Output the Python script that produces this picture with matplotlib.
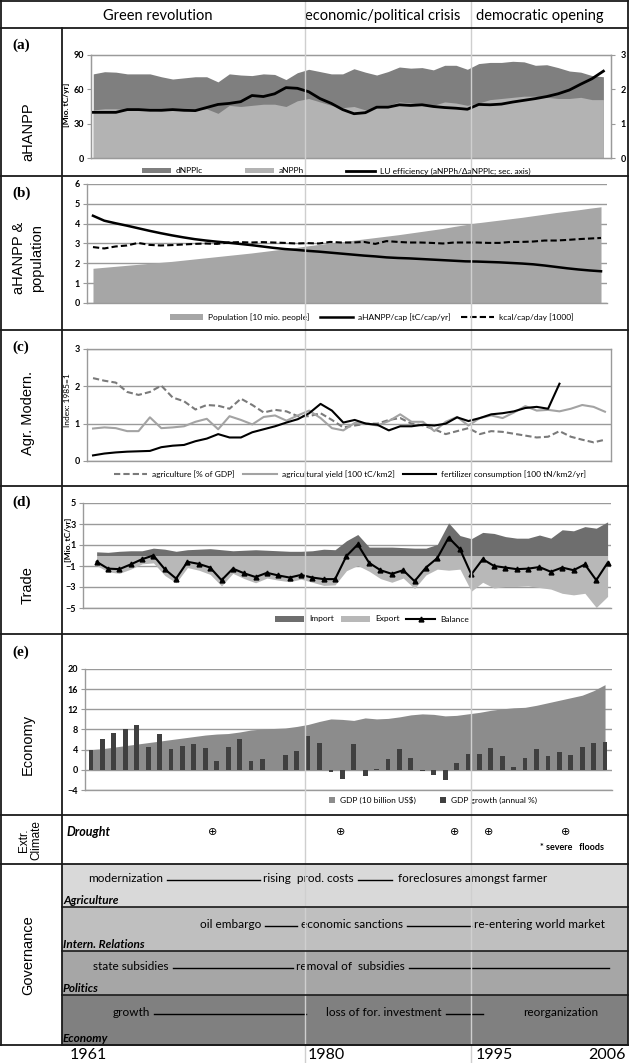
import matplotlib
matplotlib.use('Agg')
import matplotlib.pyplot as plt
from matplotlib.lines import Line2D
from matplotlib.patches import Rectangle

plt.rcParams['font.family'] = ['Lato', 'DejaVu Sans']

W, H = 630, 1063
years = list(range(1961, 2007))

# (a) aHANPP [Mio. tC/yr], LU efficiency on secondary axis
dnpplc = [73.5, 75.4, 75.0, 73.5, 73.5, 73.5, 71.0, 69.0, 70.0, 71.0,
          71.0, 66.5, 73.5, 72.5, 72.0, 73.5, 73.0, 68.5, 74.5, 77.5,
          75.5, 73.5, 73.5, 78.0, 75.0, 72.5, 75.5, 79.5, 78.5, 79.0,
          77.0, 81.0, 81.0, 77.5, 82.5, 83.5, 83.5, 84.5, 84.0, 81.0,
          81.5, 79.0, 76.0, 75.0, 72.0, 71.0]
anpph = [42, 43, 43, 42, 42, 42, 41, 42, 41, 42,
         43, 39, 46, 45, 46, 47, 47, 45, 50, 52,
         49, 46, 44, 45, 42, 44, 46, 49, 48, 47,
         46, 49, 48, 46, 48, 51, 52, 53, 54, 54,
         53, 52, 52, 53, 51, 51]
lu_eff = [1.33, 1.33, 1.33, 1.41, 1.41, 1.39, 1.39, 1.41, 1.39, 1.38,
          1.47, 1.56, 1.59, 1.64, 1.82, 1.79, 1.87, 2.05, 2.03, 1.93,
          1.73, 1.59, 1.41, 1.29, 1.32, 1.48, 1.48, 1.55, 1.53, 1.55,
          1.50, 1.47, 1.45, 1.42, 1.56, 1.55, 1.57, 1.63, 1.68, 1.73,
          1.79, 1.87, 1.98, 2.15, 2.31, 2.53]

# (b) population and per capita values
population = [1.75, 1.80, 1.85, 1.90, 1.95, 2.00, 2.05, 2.10, 2.16, 2.22,
              2.28, 2.34, 2.40, 2.46, 2.52, 2.59, 2.66, 2.73, 2.80, 2.88,
              2.95, 3.02, 3.09, 3.16, 3.23, 3.30, 3.37, 3.44, 3.52, 3.60,
              3.68, 3.76, 3.86, 3.95, 4.04, 4.11, 4.18, 4.25, 4.32, 4.40,
              4.48, 4.56, 4.63, 4.70, 4.78, 4.85]
ahanpp_cap = [4.40, 4.15, 4.02, 3.90, 3.77, 3.64, 3.52, 3.41, 3.31, 3.22,
              3.15, 3.09, 3.04, 2.98, 2.92, 2.85, 2.78, 2.72, 2.68, 2.63,
              2.59, 2.54, 2.49, 2.44, 2.39, 2.35, 2.30, 2.27, 2.25, 2.22,
              2.19, 2.16, 2.13, 2.10, 2.09, 2.07, 2.05, 2.02, 1.99, 1.95,
              1.89, 1.82, 1.75, 1.69, 1.64, 1.60]
kcal_cap = [2.82, 2.75, 2.85, 2.90, 3.03, 2.93, 2.90, 2.92, 2.95, 2.98,
            3.00, 2.98, 3.05, 3.07, 3.05, 3.07, 3.05, 3.03, 3.00, 3.02,
            3.00, 3.08, 3.05, 3.05, 3.08, 2.98, 3.12, 3.08, 3.05, 3.05,
            3.03, 3.00, 3.05, 3.05, 3.05, 3.03, 3.03, 3.08, 3.08, 3.10,
            3.15, 3.15, 3.18, 3.22, 3.25, 3.28]

# (c) agricultural modernization, index 1985=1
agri_gdp = [2.22, 2.15, 2.10, 1.85, 1.77, 1.85, 2.02, 1.70, 1.60, 1.38,
            1.50, 1.48, 1.40, 1.67, 1.50, 1.30, 1.37, 1.33, 1.20, 1.20,
            1.28, 1.10, 0.90, 0.95, 1.00, 1.00, 1.10, 1.15, 1.00, 0.95,
            0.85, 0.72, 0.80, 0.88, 0.72, 0.80, 0.78, 0.73, 0.68, 0.63,
            0.65, 0.80, 0.65, 0.57, 0.50, 0.57]
agri_yield = [0.87, 0.90, 0.88, 0.80, 0.80, 1.17, 0.88, 0.90, 0.93, 1.05,
              1.13, 0.85, 1.20, 1.10, 0.98, 1.18, 1.22, 1.08, 1.22, 1.35,
              1.15, 0.88, 0.82, 1.02, 1.00, 0.95, 1.07, 1.25, 1.05, 1.05,
              0.80, 1.05, 1.18, 0.95, 1.15, 1.22, 1.15, 1.30, 1.47, 1.35,
              1.37, 1.33, 1.40, 1.50, 1.45, 1.32]
fert_years = list(range(1961, 2003))
fertilizer = [0.15, 0.20, 0.23, 0.25, 0.26, 0.27, 0.37, 0.41, 0.43, 0.53,
              0.60, 0.72, 0.63, 0.63, 0.77, 0.85, 0.93, 1.03, 1.12, 1.28,
              1.53, 1.35, 1.03, 1.10, 1.00, 0.97, 0.82, 0.93, 0.93, 0.97,
              0.95, 1.00, 1.17, 1.07, 1.15, 1.25, 1.28, 1.33, 1.42, 1.45,
              1.40, 2.07]

# (d) trade [Mio. tC/yr]
imports = [0.35, 0.30, 0.40, 0.45, 0.45, 0.70, 0.60, 0.40, 0.55, 0.60,
           0.65, 0.55, 0.45, 0.50, 0.55, 0.50, 0.45, 0.40, 0.40, 0.45,
           0.60, 0.55, 1.40, 2.00, 0.80, 0.80, 0.80, 0.75, 0.70, 0.70,
           1.05, 3.10, 1.90, 1.60, 2.20, 2.10, 1.80, 1.65, 1.65, 1.95,
           1.65, 2.45, 2.35, 2.75, 2.60, 3.20]
exports = [-0.95, -1.55, -1.70, -1.30, -0.80, -0.70, -1.90, -2.60, -1.15, -1.40,
           -1.80, -2.90, -1.70, -2.20, -2.60, -2.15, -2.35, -2.50, -2.25, -2.55,
           -2.85, -2.80, -1.45, -0.95, -1.50, -2.20, -2.55, -2.15, -3.15, -1.85,
           -1.30, -1.40, -1.30, -3.40, -2.55, -3.10, -2.95, -2.95, -2.90, -3.05,
           -3.20, -3.60, -3.75, -3.60, -4.95, -3.90]
balance = [-0.60, -1.25, -1.30, -0.85, -0.35, 0.00, -1.30, -2.20, -0.60, -0.80,
           -1.15, -2.35, -1.25, -1.70, -2.05, -1.65, -1.90, -2.10, -1.85, -2.10,
           -2.25, -2.25, -0.05, 1.05, -0.70, -1.40, -1.75, -1.40, -2.45, -1.15,
           -0.25, 1.70, 0.60, -1.80, -0.35, -1.00, -1.15, -1.30, -1.25, -1.10,
           -1.55, -1.15, -1.40, -0.85, -2.35, -0.70]

# (e) economy
gdp = [4.0, 4.2, 4.5, 4.8, 5.1, 5.4, 5.7, 6.0, 6.3, 6.6,
       6.9, 7.1, 7.2, 7.5, 7.9, 8.1, 8.2, 8.3, 8.6, 9.0,
       9.6, 10.1, 10.0, 9.8, 10.3, 10.1, 10.2, 10.5, 10.9, 11.1,
       11.0, 10.7, 10.8, 11.1, 11.4, 11.8, 12.1, 12.3, 12.4, 12.8,
       13.3, 13.8, 14.3, 14.8, 15.7, 16.9]
gdp_growth = [3.9, 6.2, 7.4, 8.0, 8.9, 4.5, 7.2, 4.2, 4.8, 5.2,
              4.3, 1.7, 4.6, 6.1, 1.7, 2.2, -0.1, 3.0, 3.8, 6.7,
              5.4, -0.4, -1.8, 5.1, -1.2, 0.1, 2.1, 4.2, 2.4, -0.3,
              -1.0, -2.1, 1.3, 3.2, 3.1, 4.3, 2.7, 0.5, 2.4, 4.1,
              2.8, 3.6, 3.0, 4.6, 5.3, 5.6]

periods = ['Green revolution', 'economic/political crisis', 'democratic opening']
row_labels = ['aHANPP', 'aHANPP &\npopulation', 'Agr. Modern.', 'Trade',
              'Economy', 'Extr.\nClimate', 'Governance']
panel_tags = ['(a)', '(b)', '(c)', '(d)', '(e)']
drought_marks = ['⊕', '⊕', '⊕', '⊕', '⊕']
gov_groups = ['Agriculture', 'Intern. Relations', 'Politics', 'Economy']
gov_events = [['modernization', 'rising  prod. costs', 'foreclosures amongst farmer'],
              ['oil embargo', 'economic sanctions', 're-entering world market'],
              ['state subsidies', 'removal of  subsidies'],
              ['growth', 'loss of for. investment', 'reorganization']]
year_marks = ['1961', '1980', '1995', '2006']

ARIAL = ['Liberation Sans', 'DejaVu Sans']

fig = plt.figure(figsize=(W / 100, H / 100), dpi=100)

def fx(x):
    return x / W

def fy(y):
    return 1 - y / H

def px_axes(x0, x1, ytop, ybot):
    return fig.add_axes([fx(x0), fy(ybot), fx(x1 - x0), (ybot - ytop) / H])

def hline(y, x0, x1, color='#1a1a1a', lw=1.3, z=20):
    fig.add_artist(Line2D([fx(x0), fx(x1)], [fy(y), fy(y)], color=color, lw=lw, zorder=z))

def vline(x, y0, y1, color='#1a1a1a', lw=1.3, z=20):
    fig.add_artist(Line2D([fx(x), fx(x)], [fy(y0), fy(y1)], color=color, lw=lw, zorder=z))

def ticks_style(ax):
    ax.tick_params(axis='y', labelsize=6.5, length=3, color='#9a9a9a', pad=2)
    for t in ax.get_yticklabels():
        t.set_fontweight('bold')

def style(ax, grid=True, box=False):
    for s in ax.spines.values():
        s.set_color('#9a9a9a')
        s.set_linewidth(1.0)
    if not box:
        ax.spines['top'].set_visible(False)
        ax.spines['right'].set_visible(False)
    ax.set_xticks([])
    ticks_style(ax)
    if grid:
        ax.yaxis.grid(True, color='#9a9a9a', lw=1.0)
        ax.set_axisbelow(True)
    ax.patch.set_alpha(0)

legend_kw = dict(frameon=False, fontsize=6, handletextpad=0.6, borderpad=0)

# ---- (a)
ax = px_axes(91, 611, 55, 158)
ax.fill_between(years, dnpplc, color='#7f7f7f', lw=0, label='dNPPlc')
ax.fill_between(years, anpph, color='#b3b3b3', lw=0, label='aNPPh')
ax.set_xlim(1960.8, 2006.67)
ax.set_ylim(0, 90)
ax.set_yticks([0, 30, 60, 90])
style(ax, grid=False, box=True)
ax2 = ax.twinx()
ax2.plot(years, lu_eff, color='black', lw=2,
         label='LU efficiency (aNPPh/ΔaNPPlc; sec. axis)')
ax2.set_ylim(0, 3)
ax2.set_yticks([0, 1, 2, 3])
ax2.set_xticks([])
for s in ax2.spines.values():
    s.set_color('#9a9a9a')
ticks_style(ax2)
ax2.tick_params(axis='y', pad=4)
h1, l1 = ax.get_legend_handles_labels()
h2, l2 = ax2.get_legend_handles_labels()
fig.legend(h1 + h2, l1 + l2, loc='center', bbox_to_anchor=(fx(336), fy(171)),
           ncol=3, handlelength=3.5, columnspacing=5, **legend_kw)
fig.text(fx(66), fy(105), '[Mio. tC/yr]', rotation=90, fontsize=6,
         ha='center', va='center', fontweight='bold')

# ---- (b)
ax = px_axes(87, 607, 184, 303)
ax.fill_between(years, population, color='#a6a6a6', lw=0,
                label='Population [10 mio. people]')
ax.plot(years, ahanpp_cap, color='black', lw=1.8, label='aHANPP/cap [tC/cap/yr]')
ax.plot(years, kcal_cap, color='black', lw=1.5, ls=(0, (3, 1.5)),
        label='kcal/cap/day [1000]')
ax.set_xlim(1960.47, 2006.53)
ax.set_ylim(0, 6)
ax.set_yticks(range(0, 7))
style(ax)
ax.legend(loc='center', bbox_to_anchor=(fx(372), fy(317)),
          bbox_transform=fig.transFigure, ncol=3, handlelength=4,
          columnspacing=1.2, **legend_kw)

# ---- (c)
ax = px_axes(87, 611, 349, 461)
ax.plot(years, agri_gdp, color='#7a7a7a', lw=1.5, ls=(0, (3, 1.5)),
        label='agriculture [% of GDP]')
ax.plot(years, agri_yield, color='#a3a3a3', lw=1.5,
        label='agricultural yield [100 tC/km2]')
ax.plot(fert_years, fertilizer, color='black', lw=1.5,
        label='fertilizer consumption [100 tN/km2/yr]')
ax.set_xlim(1960.47, 2006.53)
ax.set_ylim(0, 3)
ax.set_yticks([0, 1, 2, 3])
style(ax, box=True)
ax.legend(loc='center', bbox_to_anchor=(fx(350), fy(474)),
          bbox_transform=fig.transFigure, ncol=3, handlelength=4,
          columnspacing=1.0, **legend_kw)
fig.text(fx(67), fy(400), 'Index: 1985=1', rotation=90, fontsize=6,
         ha='center', va='center')

# ---- (d)
ax = px_axes(83, 611, 503, 608)
ax.fill_between(years, imports, color='#6e6e6e', lw=0, label='Import')
ax.fill_between(years, exports, color='#b8b8b8', lw=0, label='Export')
ax.plot(years, balance, color='black', lw=1.5, marker='^', ms=3.5,
        label='Balance')
ax.set_xlim(1959.8, 2006.3)
ax.set_ylim(-5, 5)
ax.set_yticks([-5, -3, -1, 1, 3, 5])
style(ax)
ax.legend(loc='center', bbox_to_anchor=(fx(372), fy(619)),
          bbox_transform=fig.transFigure, ncol=3, handlelength=3.5,
          columnspacing=0.8, **legend_kw)
fig.text(fx(68), fy(540), '[Mio. tC/yr]', rotation=90, fontsize=6,
         ha='center', va='center', fontweight='bold')

# ---- (e)
ax = px_axes(85, 612, 669, 790)
ax.fill_between(years, gdp, color='#8c8c8c', lw=0, label='GDP (10 billion US$)')
ax.bar(years, gdp_growth, width=0.42, color='#404040',
       label='GDP growth (annual %)')
ax.set_xlim(1960.47, 2006.61)
ax.set_ylim(-4, 20)
ax.set_yticks(range(-4, 21, 4))
style(ax)
ax.legend(loc='center', bbox_to_anchor=(fx(433), fy(800)),
          bbox_transform=fig.transFigure, ncol=2, handlelength=0.7,
          handleheight=0.7, columnspacing=3.0, **legend_kw)

# ---- table frame
for y in [28, 176, 330, 486, 634, 815, 864, 1045]:
    hline(y, 0, 628)
vline(62, 28, 1045)
vline(1, 0, 1045)
vline(628, 0, 1045)
hline(1, 0, 628)

# header
for txt, cx in zip(periods, [158, 383, 540]):
    fig.text(fx(cx), fy(16), txt, fontsize=10.5, ha='center', va='center')

# left column labels and panel tags
for txt, cy in zip(row_labels[:5], [132, 258, 413, 585, 744]):
    fig.text(fx(28), fy(cy), txt, rotation=90, fontsize=10.5, ha='center',
             va='center', family=ARIAL, linespacing=1.3)
fig.text(fx(30), fy(840), row_labels[5], rotation=90, fontsize=8.5, ha='center',
         va='center', family=ARIAL, linespacing=1.0)
fig.text(fx(28), fy(955), row_labels[6], rotation=90, fontsize=10.5, ha='center',
         va='center', family=ARIAL)
for tag, cy in zip(panel_tags, [45, 193, 347, 502, 652]):
    fig.text(fx(12), fy(cy), tag, fontsize=11, fontweight='bold', ha='left',
             va='center', family=['Liberation Serif', 'DejaVu Serif'])

# extreme climate row
fig.text(fx(67), fy(832), 'Drought', fontsize=9, fontweight='bold',
         style='italic', ha='left', va='center')
for m, cx in zip(drought_marks, [213, 341, 455, 489, 566]):
    fig.text(fx(cx), fy(832), m, fontsize=8, ha='center', va='center',
             family=['DejaVu Sans'])
fig.text(fx(572), fy(848), '* severe   floods', fontsize=6.5, fontweight='bold',
         ha='center', va='center')

# governance bands
band_y = [(864, 907), (907, 951), (951, 995), (995, 1045)]
band_c = ['#d9d9d9', '#bfbfbf', '#a6a6a6', '#808080']
for (y0, y1), c, name in zip(band_y, band_c, gov_groups):
    fig.add_artist(Rectangle((fx(62), fy(y1)), fx(628 - 62), (y1 - y0) / H,
                             transform=fig.transFigure, facecolor=c,
                             edgecolor='none', zorder=1))
    hline(y1, 62, 628, lw=1.2)
    fig.text(fx(63), fy(y1 - 7), name, fontsize=8.5, fontweight='bold',
             style='italic', ha='left', va='center', zorder=5)

event_x = [[88, 263, 398],
           [200, 301, 474],
           [93, 296],
           [113, 326, 523]]
# dash right ends (px); the dash starts just after the preceding text
dash_end = [[260, 392],
            [297, 473],
            [296, 609],
            [306, 483]]
event_y = [879, 925, 967, 1013]
fig.canvas.draw()
renderer = fig.canvas.get_renderer()
for evs, xs, ends, ey in zip(gov_events, event_x, dash_end, event_y):
    texts = [fig.text(fx(x), fy(ey), txt, fontsize=8.5, ha='left', va='center',
                      zorder=5) for txt, x in zip(evs, xs)]
    for i, end in enumerate(ends):
        right = texts[i].get_window_extent(renderer).x1 + 4
        if i + 1 < len(texts):
            end = min(end, texts[i + 1].get_window_extent(renderer).x0 - 3)
        hline(ey + 1, right, end, color='black', lw=1.0, z=5)

# period boundaries
for x in [305, 471]:
    vline(x, 1, 1063, color='#cfcfcf', lw=1.0, z=15)

# bottom year labels
for txt, x in zip(year_marks, [70, 308, 476, 588]):
    fig.text(fx(x), fy(1055), txt, fontsize=11.5, ha='left', va='center')

fig.savefig('out.png', dpi=100)
